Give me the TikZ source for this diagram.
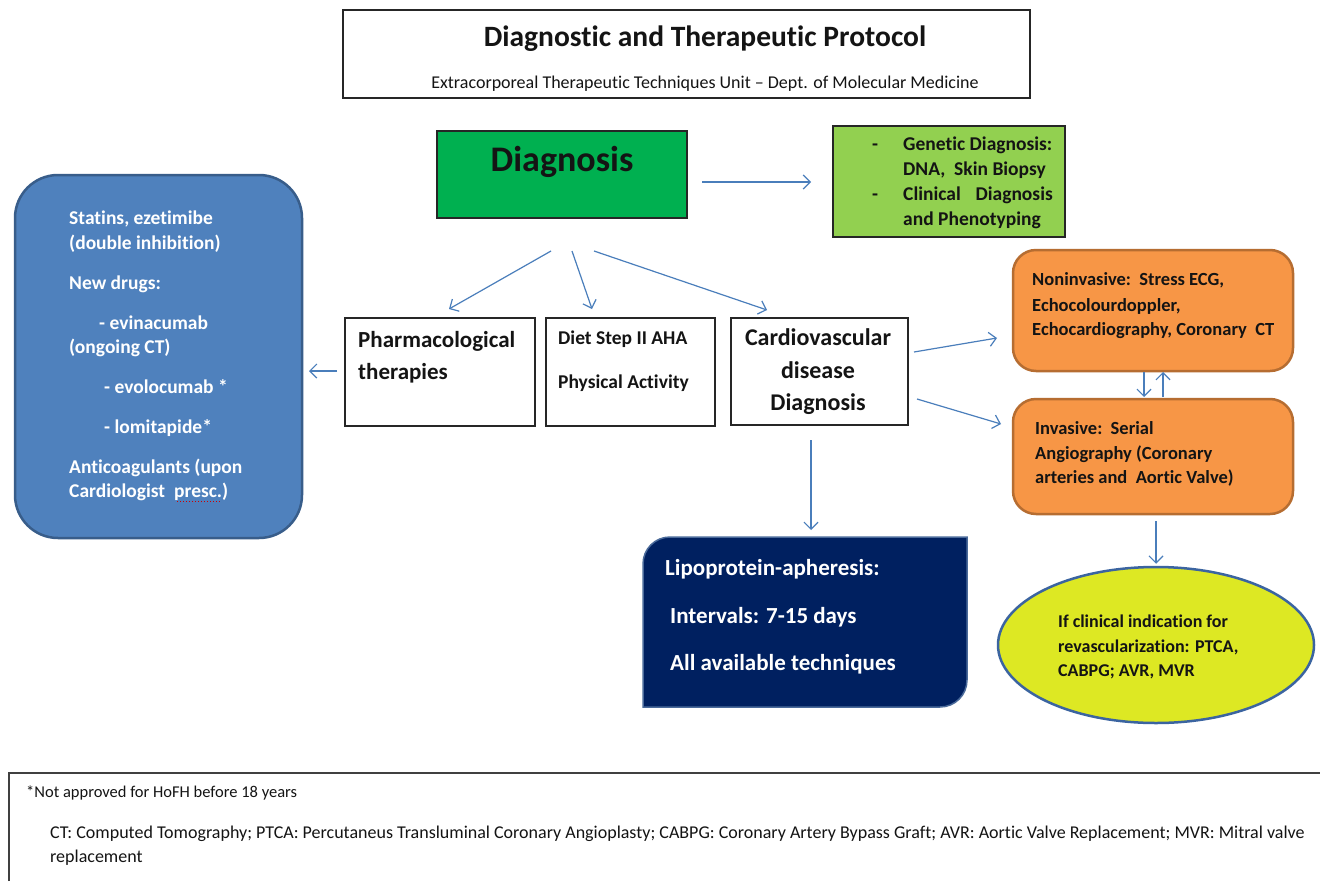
\documentclass[tikz,border=0pt]{standalone}
\usepackage{fontspec}
\setmainfont{Carlito}[Ligatures=NoCommon]
\usetikzlibrary{arrows.meta,shapes.geometric}
\definecolor{arrowblue}{HTML}{4A7EBB}
\definecolor{diaggreen}{HTML}{00B050}
\definecolor{genegreen}{HTML}{92D050}
\definecolor{boxblue}{HTML}{4F81BD}
\definecolor{blueborder}{HTML}{385D8A}
\definecolor{boxorange}{HTML}{F79646}
\definecolor{orangeborder}{HTML}{B66D31}
\definecolor{navy}{HTML}{002060}
\definecolor{navyborder}{HTML}{4A6A9A}
\definecolor{ellyellow}{HTML}{DDE823}
\definecolor{ellblue}{HTML}{3B64A0}
\definecolor{textdark}{HTML}{141414}
\newcommand\myfs[1]{\fontsize{#1}{#1}\selectfont}
\begin{document}
\begin{tikzpicture}[x=1pt,y=-1pt,
  plainbox/.style={draw=black!85, line width=1.1pt, inner sep=0pt, outer sep=0pt, anchor=north west},
  rbox/.style={plainbox, rounded corners=23pt, draw=orangeborder, line width=2.5pt, fill=boxorange},
  ltxt/.style={anchor=base west, inner sep=0pt, text=textdark},
  ctxt/.style={anchor=base, inner sep=0pt, text=textdark},
  wtxt/.style={anchor=base west, inner sep=0pt, text=white, font=\bfseries\myfs{19.5}},
  arr/.style={draw=arrowblue, line width=1.2pt, -{Straight Barb[length=7pt,width=14pt]}}
]
\useasboundingbox (0,0) rectangle (1320,881);
\fill[white] (0,0) rectangle (1320,881);

% title
\node[plainbox, minimum width=687, minimum height=88] (title) at (343,10) {};
\node[ctxt, font=\bfseries\myfs{29.5}] (t1) at (705,46) {Diagnostic and Therapeutic Protocol};
\node[ctxt, font=\myfs{18}] (t2) at (705,88) {Extracorporeal Therapeutic Techniques Unit – Dept. of Molecular Medicine};

% diagnosis
\node[plainbox, fill=diaggreen, minimum width=250, minimum height=87] (diag) at (437,131) {};
\node[ctxt, font=\bfseries\myfs{36}] (tdiag) at (562,171) {Diagnosis};

% genetic
\node[plainbox, fill=genegreen, minimum width=232, minimum height=111] (gen) at (833,126) {};
\begin{scope}[every node/.style={font=\bfseries\myfs{19.5}}]
\node[ltxt] (g0a) at (872,150) {-};
\node[ltxt] (g1) at (903,150) {Genetic Diagnosis:};
\node[ltxt] (g2) at (903,175) {DNA,\ \ Skin Biopsy};
\node[ltxt] (g0b) at (872,200) {-};
\node[ltxt] (g3a) at (903,200) {Clinical};
\node[anchor=base east, inner sep=0pt, text=textdark] (g3b) at (1053,200) {Diagnosis};
\node[ltxt] (g4) at (903,225) {and Phenotyping};
\end{scope}

% left blue box
\node[plainbox, draw=blueborder, line width=2.5pt, rounded corners=43pt, fill=boxblue, minimum width=287, minimum height=363] (drugs) at (15,175) {};
\node[wtxt] (d1) at (69,224) {Statins, ezetimibe};
\node[wtxt] (d2) at (69,249) {(double inhibition)};
\node[wtxt] (d3) at (69,289) {New drugs:};
\node[wtxt] (d4) at (99,329) {- evinacumab};
\node[wtxt] (d5) at (69,353) {(ongoing CT)};
\node[wtxt] (d6) at (104,393) {- evolocumab *};
\node[wtxt] (d7) at (104,433) {- lomitapide*};
\node[wtxt] (d8) at (69,473) {Anticoagulants (upon};
\node[wtxt] (d9) at (69,497) {Cardiologist\ \ presc.)};
\draw[red!80!black, line width=1pt, dotted] ([shift={(108,4)}]d9.base west) -- ([shift={(152,4)}]d9.base west);

% middle boxes
\node[plainbox, minimum width=190, minimum height=108] (pharm) at (345,318) {};
\node[ltxt, font=\bfseries\myfs{23}] (p1) at (358,347) {Pharmacological};
\node[ltxt, font=\bfseries\myfs{23}] (p2) at (358,379) {therapies};

\node[plainbox, minimum width=169, minimum height=108] (diet) at (546,318) {};
\node[ltxt, font=\bfseries\myfs{19.5}] (di1) at (558,344) {Diet Step II AHA};
\node[ltxt, font=\bfseries\myfs{19.5}] (di2) at (558,388) {Physical Activity};

\node[plainbox, minimum width=177, minimum height=107] (cv) at (731,318) {};
\node[ctxt, font=\bfseries\myfs{24}] (c1) at (818,345) {Cardiovascular};
\node[ctxt, font=\bfseries\myfs{24}] (c2) at (818,378) {disease};
\node[ctxt, font=\bfseries\myfs{24}] (c3) at (818,410) {Diagnosis};

% orange boxes
\node[rbox, minimum width=280, minimum height=121] (nonin) at (1013,250) {};
\node[ltxt, font=\bfseries\myfs{18.5}] (n1) at (1032,285) {Noninvasive:\ \ Stress ECG,};
\node[ltxt, font=\bfseries\myfs{18.5}] (n2) at (1032,311) {Echocolourdoppler,};
\node[ltxt, font=\bfseries\myfs{18.5}] (n3) at (1032,335) {Echocardiography, Coronary\ \ CT};

\node[rbox, minimum width=280, minimum height=115] (inv) at (1013,399) {};
\node[ltxt, font=\bfseries\myfs{18.5}] (i1) at (1035,434) {Invasive:\ \ Serial};
\node[ltxt, font=\bfseries\myfs{18.5}] (i2) at (1035,459) {Angiography (Coronary};
\node[ltxt, font=\bfseries\myfs{18.5}] (i3) at (1035,483) {arteries and\ \ Aortic Valve)};

% lipoprotein apheresis box
\node[inner sep=0pt, outer sep=0pt, minimum width=324, minimum height=170, anchor=north west] (lipo) at (643,537) {};
\draw[fill=navy, draw=navyborder, line width=1.5pt]
  (643,707) -- (643,564) .. controls (643,549) and (655,537) .. (670,537)
  -- (967,537) -- (967,680) .. controls (967,695) and (955,707) .. (940,707) -- cycle;
\node[wtxt, font=\bfseries\myfs{23}] (l1) at (665,575) {Lipoprotein-apheresis:};
\node[wtxt, font=\bfseries\myfs{23}] (l2) at (670,623) {Intervals: 7-15 days};
\node[wtxt, font=\bfseries\myfs{23}] (l3) at (670,670) {All available techniques};

% ellipse
\node[ellipse, draw=ellblue, line width=2.5pt, fill=ellyellow, minimum width=316, minimum height=156, inner sep=0pt] (revasc) at (1156,645) {};
\node[ltxt, font=\bfseries\myfs{18}] (e1) at (1058,627) {If clinical indication for};
\node[ltxt, font=\bfseries\myfs{18}] (e2) at (1058,652) {revascularization: PTCA,};
\node[ltxt, font=\bfseries\myfs{18}] (e3) at (1058,676) {CABPG; AVR, MVR};

% arrows
\draw[arr] ([shift={(15,7.5)}]diag.east) -- ([shift={(-22,0.5)}]gen.west);
\draw[arr] ([shift={(-11,33)}]diag.south) -- ([shift={(9,-9)}]pharm.north);
\draw[arr] ([shift={(10,33)}]diag.south) -- ([shift={(-38.5,-9)}]diet.north);
\draw[arr] ([shift={(32,33)}]diag.south) -- ([shift={(-52.5,-8)}]cv.north);
\draw[arr] ([shift={(-8,-1)}]pharm.west) -- ([shift={(7,14.5)}]drugs.east);
\draw[arr] ([shift={(6,-19.5)}]cv.east) -- ([shift={(-16,27.5)}]nonin.west);
\draw[arr] ([shift={(9,27.5)}]cv.east) -- ([shift={(-12,-32.5)}]inv.west);
\draw[arr] ([shift={(-9,1)}]nonin.south) -- ([shift={(-9,-2)}]inv.north);
\draw[arr] ([shift={(10,-2)}]inv.north) -- ([shift={(10,1)}]nonin.south);
\draw[arr] ([shift={(-8.5,15)}]cv.south) -- ([shift={(6,-7)}]lipo.north);
\draw[arr] ([shift={(3,7)}]inv.south) -- ([shift={(0,-2)}]revasc.north);

% footnote
\draw[draw=black!75, line width=1.1pt] (9,881) -- (9,773) -- (1320,773);
\node[ltxt, font=\myfs{16.5}] (f1) at (26,797) {*Not approved for HoFH before 18 years};
\node[ltxt, font=\myfs{18}] (f2) at (50,838) {CT: Computed Tomography; PTCA: Percutaneus Transluminal Coronary Angioplasty; CABPG: Coronary Artery Bypass Graft; AVR: Aortic Valve Replacement; MVR: Mitral valve};
\node[ltxt, font=\myfs{18}] (f3) at (50,862) {replacement};
\end{tikzpicture}
\end{document}
